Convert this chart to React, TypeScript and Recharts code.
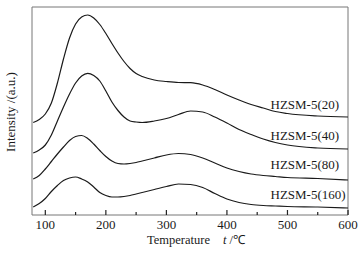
import { LineChart, Line, XAxis, YAxis, ReferenceDot, ReferenceArea, ReferenceLine } from "recharts";

// Temperature (°C) sampling points
const TEMPS = [80, 90, 100, 110, 120, 130, 140, 150, 160, 170, 180, 190, 200, 210, 220, 230, 240, 250, 260, 280, 300, 320, 340, 360, 380, 400, 420, 440, 460, 480, 500, 550, 600];

// Intensity (a.u., stacked offsets kept as drawn)
const HZSM20 = [92.5, 95.5, 101, 112, 132, 156, 177, 191, 198, 200, 197, 190.5, 181.5, 171.5, 162, 153.5, 146.5, 141.5, 138.5, 135, 133.5, 132.5, 132.3, 130, 125.5, 120, 115, 110.5, 107, 103.5, 101.5, 99, 98];
const HZSM40 = [62, 65, 70, 80, 94, 108, 121, 132, 139, 141.7, 139.5, 134, 124, 113, 104.5, 98, 94, 93, 92.5, 94, 96.5, 100.5, 104, 103, 98, 92, 85.5, 80.5, 76, 72.5, 70, 67, 66];
const HZSM80 = [36, 39.5, 46, 53.5, 61, 68, 74.5, 78.5, 79.5, 76.5, 71, 64.5, 58.5, 54, 51.5, 51, 51.5, 52.5, 54, 57, 60, 61.5, 60.5, 57, 52, 47, 43.5, 41, 39.5, 38.5, 37.5, 36.5, 35];
const HZSM160 = [8, 11.5, 16.5, 23.5, 29.5, 34.5, 37, 38, 36, 33, 28, 22.5, 19.5, 18, 18, 18.5, 19.5, 21, 22.5, 25.5, 28.5, 31, 30.5, 27.5, 21.5, 16, 12.5, 10.5, 9.5, 9, 8.5, 8, 7];

const SERIES_NAMES = ["HZSM-5(20)", "HZSM-5(40)", "HZSM-5(80)", "HZSM-5(160)"];
const SERIES_VALUES = [HZSM20, HZSM40, HZSM80, HZSM160];

const MAJOR_TICKS = [100, 200, 300, 400, 500, 600];
const MINOR_TICKS = [150, 250, 350, 450, 550];

// where the curve names sit, in data units
const NAME_T = 472;
const NAME_Y = [111, 80, 51, 21];

const data = TEMPS.map((t, i) => {
  const row: Record<string, number> = { t };
  SERIES_NAMES.forEach((name, s) => { row[name] = SERIES_VALUES[s][i]; });
  return row;
});

const FONT = "'Liberation Serif', 'Times New Roman', serif";
const INK = "#1a1a1a";
const FRAME = "#777";

function XTitle(props: any) {
  const vb = props.viewBox || { x: 32, y: 215, width: 316 };
  return (
    <text x={vb.x + 115} y={vb.y + 29} fontFamily={FONT} fontSize={12.5} fill={INK}>
      <tspan>Temperature</tspan>
      <tspan dx={13} fontStyle="italic">t</tspan>
      <tspan> /℃</tspan>
    </text>
  );
}

function YTitle(props: any) {
  const vb = props.viewBox || { x: 0, y: 7, width: 32, height: 208 };
  const cx = vb.x + vb.width - 22;
  const cy = vb.y + vb.height / 2 + 1;
  return (
    <text x={cx} y={cy} transform={`rotate(-90 ${cx} ${cy})`} textAnchor="middle" dominantBaseline="central" fontFamily={FONT} fontSize={13} fill={INK}>
      Intensity /(a.u.)
    </text>
  );
}

function NameLabel(props: any) {
  const { viewBox, value } = props;
  return (
    <text x={viewBox.x} y={viewBox.y} dominantBaseline="central" fontFamily={FONT} fontSize={13} fill={INK}>
      {value}
    </text>
  );
}

export default function App() {
  return (
    <div style={{ position: "absolute", left: 0, top: 0, width: 360, height: 253, background: "#fff" }}>
      <LineChart width={360} height={253} data={data} margin={{ top: 7, right: 12, bottom: 8, left: 0 }}>
        <XAxis
          dataKey="t"
          type="number"
          domain={[78, 600]}
          ticks={MAJOR_TICKS}
          interval={0}
          height={30}
          tickSize={5}
          tickMargin={0}
          tickLine={false}
          tick={{ fontFamily: FONT, fontSize: 13, fill: INK }}
          axisLine={false}
          allowDataOverflow
          label={<XTitle />}
        />
        <YAxis domain={[0, 208]} width={32} tick={false} tickLine={false} axisLine={false} allowDataOverflow label={<YTitle />} />
        <ReferenceArea x1={78} x2={600} y1={0} y2={208} fill="none" stroke={FRAME} strokeWidth={1} ifOverflow="visible" />
        {MAJOR_TICKS.map((t) => (
          <ReferenceLine key={`maj-${t}`} segment={[{ x: t, y: 0 }, { x: t, y: 5 }]} stroke="#222" strokeWidth={1.2} />
        ))}
        {MINOR_TICKS.map((t) => (
          <ReferenceLine key={`min-${t}`} segment={[{ x: t, y: 0 }, { x: t, y: 3 }]} stroke="#222" strokeWidth={1.2} />
        ))}
        {SERIES_NAMES.map((name) => (
          <Line key={name} type="monotone" dataKey={name} stroke={INK} strokeWidth={1.2} dot={false} isAnimationActive={false} />
        ))}
        {SERIES_NAMES.map((name, i) => (
          <ReferenceDot key={`lbl-${name}`} x={NAME_T} y={NAME_Y[i]} r={0} fill="none" stroke="none" ifOverflow="visible" label={<NameLabel value={name} />} />
        ))}
      </LineChart>
    </div>
  );
}
